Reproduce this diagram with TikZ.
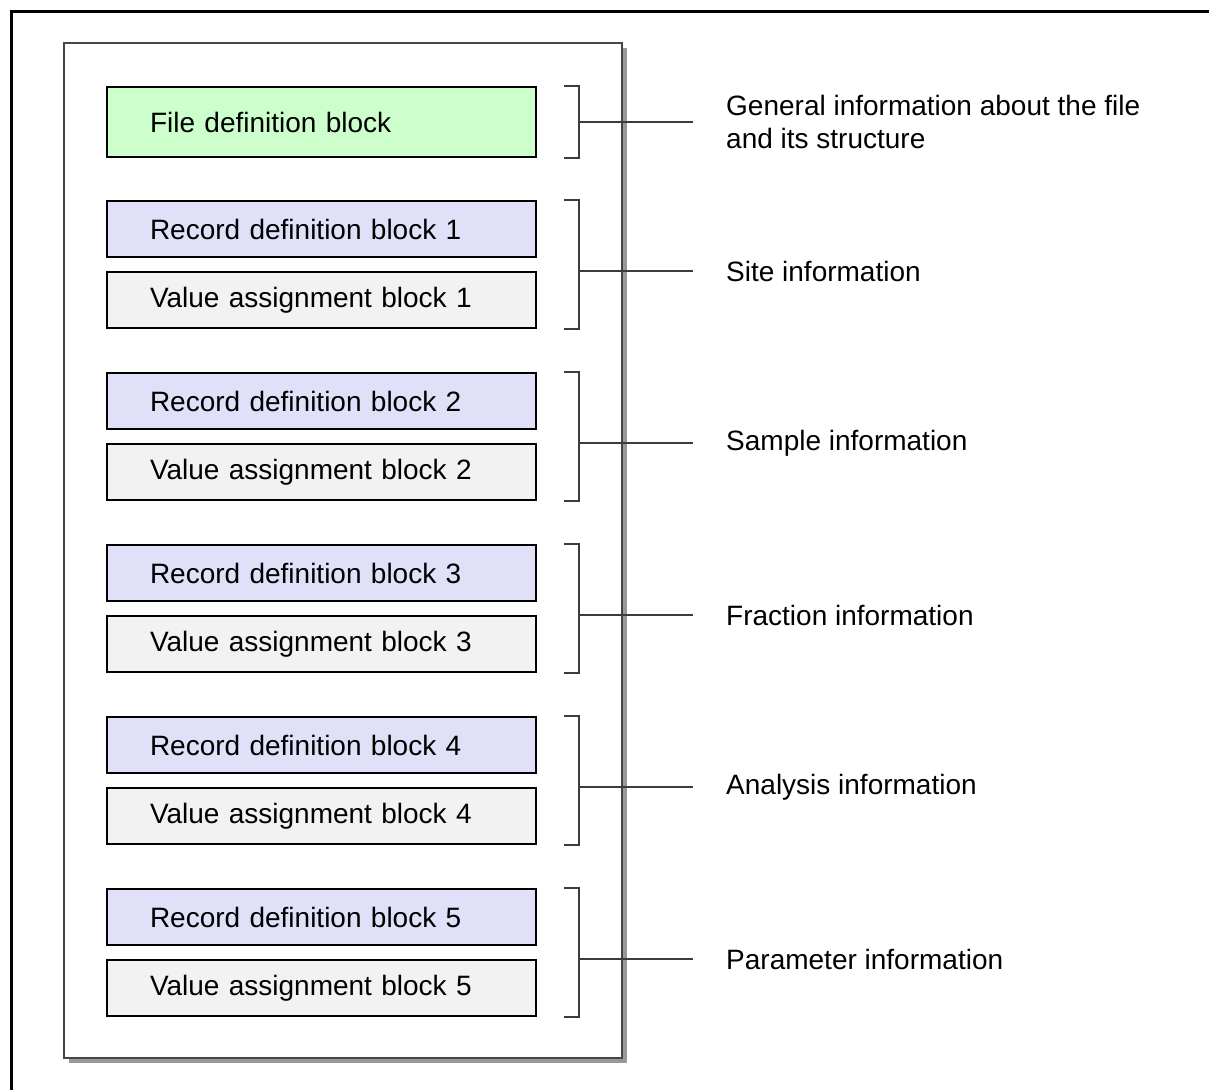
\documentclass[tikz,border=0pt]{standalone}
\usepackage{fontspec}
\setmainfont{Liberation Sans}
\usetikzlibrary{positioning}

\definecolor{filegreen}{RGB}{204,255,204}
\definecolor{recblue}{RGB}{224,224,248}
\definecolor{valgray}{RGB}{242,242,242}
\definecolor{shadowgray}{RGB}{153,153,153}
\definecolor{pageedge}{RGB}{70,70,70}
\definecolor{brackgray}{RGB}{60,60,60}

\tikzset{
  block/.style={draw=black, line width=2pt, minimum height=56pt, text width=343pt,
    inner xsep=43pt, inner ysep=0pt, align=left, font=\fontsize{28}{33}\selectfont},
  fileblock/.style={block, fill=filegreen, minimum height=70pt},
  recblock/.style={block, fill=recblue},
  valblock/.style={block, fill=valgray},
  infolabel/.style={anchor=west, align=left, inner sep=0pt, font=\fontsize{28}{33}\selectfont},
  bracket/.style={draw=brackgray, line width=1.3pt},
  leader/.style={draw=brackgray, line width=1.3pt}
}

\begin{document}
\begin{tikzpicture}[x=1pt,y=-1pt]
  \useasboundingbox (0,0) rectangle (1209,1090);
  % outer frame
  \draw[line width=3pt] (11,1090) |- (1209,11);
  % page with shadow
  \fill[shadowgray] (69,48) rectangle (627,1063);
  \draw[pageedge, fill=white, line width=1.5pt] (64,43) rectangle (622,1058);

  \node[fileblock, anchor=north west] (file) at (106,86) {File definition block};
  \node[recblock, below=42pt of file] (rec1) {Record definition block 1};
  \node[valblock, below=13pt of rec1] (val1) {Value assignment block 1};
  \node[recblock, below=43pt of val1] (rec2) {Record definition block 2};
  \node[valblock, below=13pt of rec2] (val2) {Value assignment block 2};
  \node[recblock, below=43pt of val2] (rec3) {Record definition block 3};
  \node[valblock, below=13pt of rec3] (val3) {Value assignment block 3};
  \node[recblock, below=43pt of val3] (rec4) {Record definition block 4};
  \node[valblock, below=13pt of rec4] (val4) {Value assignment block 4};
  \node[recblock, below=43pt of val4] (rec5) {Record definition block 5};
  \node[valblock, below=13pt of rec5] (val5) {Value assignment block 5};

  \node[infolabel, right=189pt of file.east] (general) {General information about the file\\and its structure};
  \node[infolabel, right=189pt of val1.north east] (site) {Site information};
  \node[infolabel, right=189pt of val2.north east] (sample) {Sample information};
  \node[infolabel, right=189pt of val3.north east] (fraction) {Fraction information};
  \node[infolabel, right=189pt of val4.north east] (analysis) {Analysis information};
  \node[infolabel, right=189pt of val5.north east] (parameter) {Parameter information};

  % brackets
  \draw[bracket] ([xshift=27pt]file.north east) -| ([xshift=42pt]file.south east) -- ([xshift=27pt]file.south east);
  \draw[bracket] ([xshift=27pt]rec1.north east) -| ([xshift=42pt]val1.south east) -- ([xshift=27pt]val1.south east);
  \draw[bracket] ([xshift=27pt]rec2.north east) -| ([xshift=42pt]val2.south east) -- ([xshift=27pt]val2.south east);
  \draw[bracket] ([xshift=27pt]rec3.north east) -| ([xshift=42pt]val3.south east) -- ([xshift=27pt]val3.south east);
  \draw[bracket] ([xshift=27pt]rec4.north east) -| ([xshift=42pt]val4.south east) -- ([xshift=27pt]val4.south east);
  \draw[bracket] ([xshift=27pt]rec5.north east) -| ([xshift=42pt]val5.south east) -- ([xshift=27pt]val5.south east);

  \draw[leader] ([xshift=42pt]file.east) -- ([xshift=-33pt]general.west);
  \draw[leader] ([xshift=42pt]val1.north east) -- ([xshift=-33pt]site.west);
  \draw[leader] ([xshift=42pt]val2.north east) -- ([xshift=-33pt]sample.west);
  \draw[leader] ([xshift=42pt]val3.north east) -- ([xshift=-33pt]fraction.west);
  \draw[leader] ([xshift=42pt]val4.north east) -- ([xshift=-33pt]analysis.west);
  \draw[leader] ([xshift=42pt]val5.north east) -- ([xshift=-33pt]parameter.west);
\end{tikzpicture}
\end{document}
